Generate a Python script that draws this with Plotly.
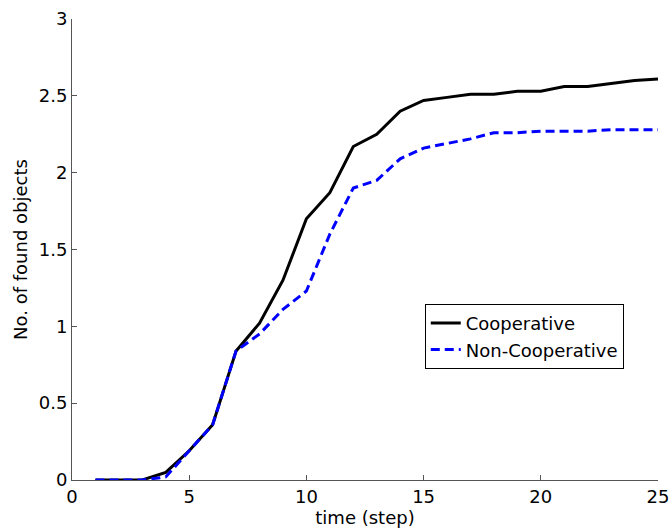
import plotly.graph_objects as go

# time steps and mean number of found objects per strategy
steps = list(range(1, 26))
cooperative = [0, 0, 0, 0.05, 0.19, 0.36, 0.84, 1.02, 1.30, 1.70, 1.87, 2.17, 2.25,
               2.40, 2.47, 2.49, 2.51, 2.51, 2.53, 2.53, 2.56, 2.56, 2.58, 2.60, 2.61]
non_cooperative = [0, 0, 0, 0.02, 0.19, 0.36, 0.84, 0.95, 1.11, 1.23, 1.60, 1.90, 1.95,
                   2.09, 2.16, 2.19, 2.22, 2.26, 2.26, 2.27, 2.27, 2.27, 2.28, 2.28, 2.28]
x_ticks = [0, 5, 10, 15, 20, 25]
y_ticks = [0, 0.5, 1, 1.5, 2, 2.5, 3]
y_tick_text = ["0", "0.5", "1", "1.5", "2", "2.5", "3"]

font = "DejaVu Sans, Liberation Sans, sans-serif"
fsize = 18

fig = go.Figure()
fig.add_trace(go.Scatter(x=steps, y=cooperative, mode="lines", name="Cooperative",
                         line=dict(color="black", width=3)))
fig.add_trace(go.Scatter(x=steps, y=non_cooperative, mode="lines", name="Non-Cooperative",
                         line=dict(color="#0000ff", width=3, dash="9px,5px")))

axis_common = dict(showgrid=False, zeroline=False, showline=True, linecolor="#555555",
                   linewidth=1, ticks="inside", ticklen=5, tickcolor="#555555",
                   tickfont=dict(family=font, size=fsize, color="black"),
                   mirror=False, automargin=False)

fig.update_layout(
    width=671, height=531,
    margin=dict(l=72, r=13, t=19, b=51),
    paper_bgcolor="white", plot_bgcolor="white",
    font=dict(family=font, color="black"),
    showlegend=True,
    legend=dict(x=0.602, y=0.382, xanchor="left", yanchor="top",
                bgcolor="white", bordercolor="black", borderwidth=1,
                font=dict(family=font, size=fsize, color="black"),
                tracegroupgap=0, itemwidth=30),
    xaxis=dict(range=[0, 25], tickvals=x_ticks,
               title=dict(text="time (step)", font=dict(family=font, size=fsize), standoff=0),
               **axis_common),
    yaxis=dict(range=[0, 3], tickvals=y_ticks, ticktext=y_tick_text,
               title=dict(text="No. of found objects", font=dict(family=font, size=fsize), standoff=6),
               **axis_common),
)

fig.write_html("out.html")
